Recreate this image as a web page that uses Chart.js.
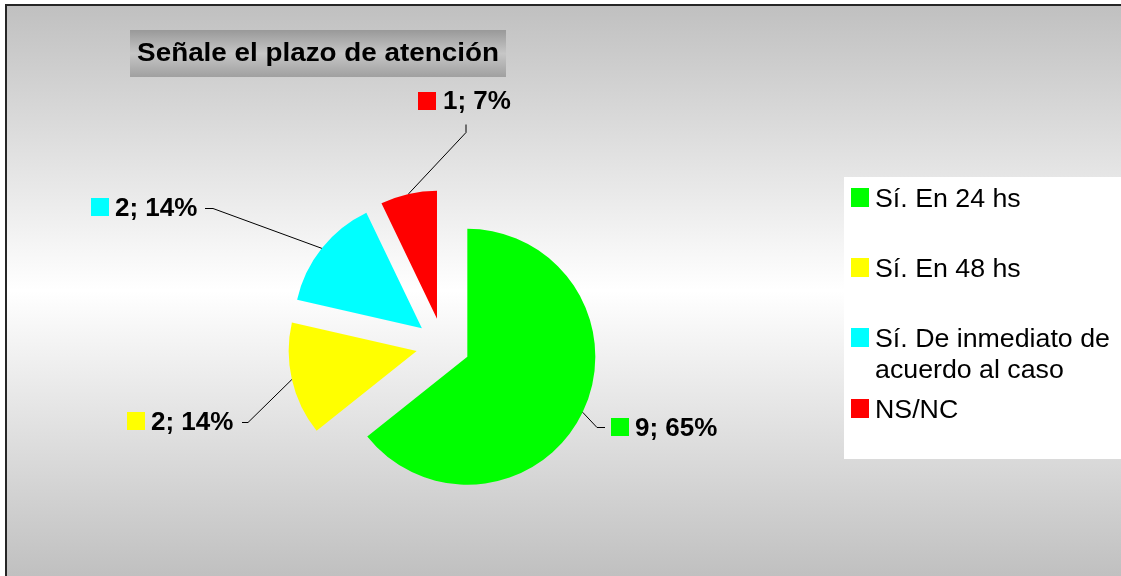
<!DOCTYPE html>
<html>
<head>
<meta charset="utf-8">
<script src="https://cdn.jsdelivr.net/npm/chart.js@4"></script>
<style>
  html, body { margin: 0; padding: 0; background: #fff; overflow: hidden; }
  #wrap { position: relative; width: 1121px; height: 576px; }
  canvas { display: block; }
</style>
</head>
<body>
<div id="wrap"><canvas id="chart__plazo" width="1121" height="576"></canvas></div>
<script>
const categories = ['Sí. En 24 hs', 'Sí. En 48 hs', 'Sí. De inmediato de acuerdo al caso', 'NS/NC'];
const counts = [9, 2, 2, 1];
const percents = [65, 14, 14, 7];
const colors = ['#00ff00', '#ffff00', '#00ffff', '#ff0000'];
const chartTitle = 'Señale el plazo de atención';

const FONT = "'Liberation Sans', Arial, sans-serif";
const EXPLODE = 27;

// where each data label sits, and the elbow of its leader line
const labelSpots = [
    { sq: [611, 418], tx: 635, ty: 436, elbow: [[605, 427], [597, 427]] },
    { sq: [127, 412], tx: 151, ty: 430, elbow: [[242, 422], [248, 422]] },
    { sq: [91, 198],  tx: 115, ty: 216, elbow: [[205, 208], [213, 208]] },
    { sq: [418, 92],  tx: 443, ty: 109, elbow: [[466, 124], [466, 132]] },
];

function stretchText(ctx, text, x, y, sx) {
    ctx.save();
    ctx.translate(x, y);
    ctx.scale(sx, 1);
    ctx.fillText(text, 0, 0);
    ctx.restore();
}

function wrapLines(ctx, text, maxWidth) {
    const words = text.split(' ');
    const lines = [];
    let line = '';
    words.forEach(w => {
        const test = line ? line + ' ' + w : w;
        if (line && ctx.measureText(test).width > maxWidth) {
            lines.push(line);
            line = w;
        } else {
            line = test;
        }
    });
    lines.push(line);
    return lines;
}

const backdrop = {
    id: 'backdrop',
    beforeDraw(chart) {
        const ctx = chart.ctx;
        const W = chart.width, H = chart.height;
        ctx.save();
        ctx.fillStyle = '#ffffff';
        ctx.fillRect(0, 0, W, H);

        const g = ctx.createLinearGradient(0, 5, 0, H);
        g.addColorStop(0, '#c0c0c0');
        g.addColorStop(0.5, '#ffffff');
        g.addColorStop(1, '#c0c0c0');
        ctx.fillStyle = g;
        ctx.fillRect(6, 5, W - 6, H - 5);

        // frame: only the top and left edges fall inside the canvas
        ctx.fillStyle = '#262626';
        ctx.fillRect(5, 4, 2, H - 4);
        ctx.fillRect(5, 4, W - 5, 2);

        // title box
        const tg = ctx.createLinearGradient(0, 30, 0, 77);
        tg.addColorStop(0, '#999999');
        tg.addColorStop(0.5, '#c6c6c6');
        tg.addColorStop(1, '#a0a0a0');
        ctx.fillStyle = tg;
        ctx.fillRect(130, 30, 376, 47);
        ctx.fillStyle = '#000000';
        ctx.font = 'bold 26px ' + FONT;
        ctx.textAlign = 'center';
        ctx.textBaseline = 'alphabetic';
        stretchText(ctx, chartTitle, 318, 61, 1.07);

        // legend
        ctx.fillStyle = '#ffffff';
        ctx.fillRect(844, 177, W - 844, 282);
        ctx.font = '25px ' + FONT;
        ctx.textAlign = 'left';
        let base = 207;
        chart.data.labels.forEach((label, i) => {
            ctx.fillStyle = colors[i];
            ctx.fillRect(851, base - 19, 18, 19);
            ctx.fillStyle = '#000000';
            const lines = wrapLines(ctx, label, 225);
            lines.forEach((ln, k) => stretchText(ctx, ln, 875, base + k * 30.5, 1.07));
            base += 70 + (lines.length > 1 ? 1 : 0);
        });
        ctx.restore();
    }
};

// pulls every slice out along its middle angle
const explode = {
    id: 'explode',
    beforeDatasetDraw(chart, args) {
        const ctx = chart.ctx;
        args.meta.data.forEach(arc => {
            const mid = (arc.startAngle + arc.endAngle) / 2;
            ctx.save();
            ctx.translate(Math.cos(mid) * EXPLODE, Math.sin(mid) * EXPLODE);
            arc.draw(ctx);
            ctx.restore();
        });
        return false;
    }
};

const sliceLabels = {
    id: 'sliceLabels',
    afterDatasetsDraw(chart) {
        const ctx = chart.ctx;
        const meta = chart.getDatasetMeta(0);
        ctx.save();
        meta.data.forEach((arc, i) => {
            const spot = labelSpots[i];
            const mid = (arc.startAngle + arc.endAngle) / 2;
            const r = arc.outerRadius + EXPLODE;
            const px = arc.x + Math.cos(mid) * r;
            const py = arc.y + Math.sin(mid) * r;

            ctx.strokeStyle = '#000000';
            ctx.lineWidth = 1;
            ctx.beginPath();
            ctx.moveTo(spot.elbow[0][0], spot.elbow[0][1] + 0.5);
            ctx.lineTo(spot.elbow[1][0], spot.elbow[1][1] + 0.5);
            ctx.lineTo(px, py);
            ctx.stroke();

            ctx.fillStyle = colors[i];
            ctx.fillRect(spot.sq[0], spot.sq[1], 18, 18);
            ctx.fillStyle = '#000000';
            ctx.font = 'bold 26px ' + FONT;
            ctx.textAlign = 'left';
            ctx.textBaseline = 'alphabetic';
            ctx.fillText(counts[i] + '; ' + percents[i] + '%', spot.tx, spot.ty);
        });
        ctx.restore();
    }
};

new Chart(
    document.getElementById('chart__plazo'),
    {
        type: 'pie',
        data: {
            labels: categories,
            datasets: [
                {
                    label: chartTitle,
                    data: counts,
                    backgroundColor: colors,
                    borderWidth: 0,
                    hoverOffset: 0
                }
            ]
        },
        options: {
            responsive: false,
            animation: false,
            layout: {
                padding: { left: 315, right: 550, top: 217, bottom: 103 }
            },
            plugins: {
                legend: { display: false },
                title: { display: false }
            }
        },
        plugins: [backdrop, explode, sliceLabels]
    }
);
</script>
</body>
</html>
